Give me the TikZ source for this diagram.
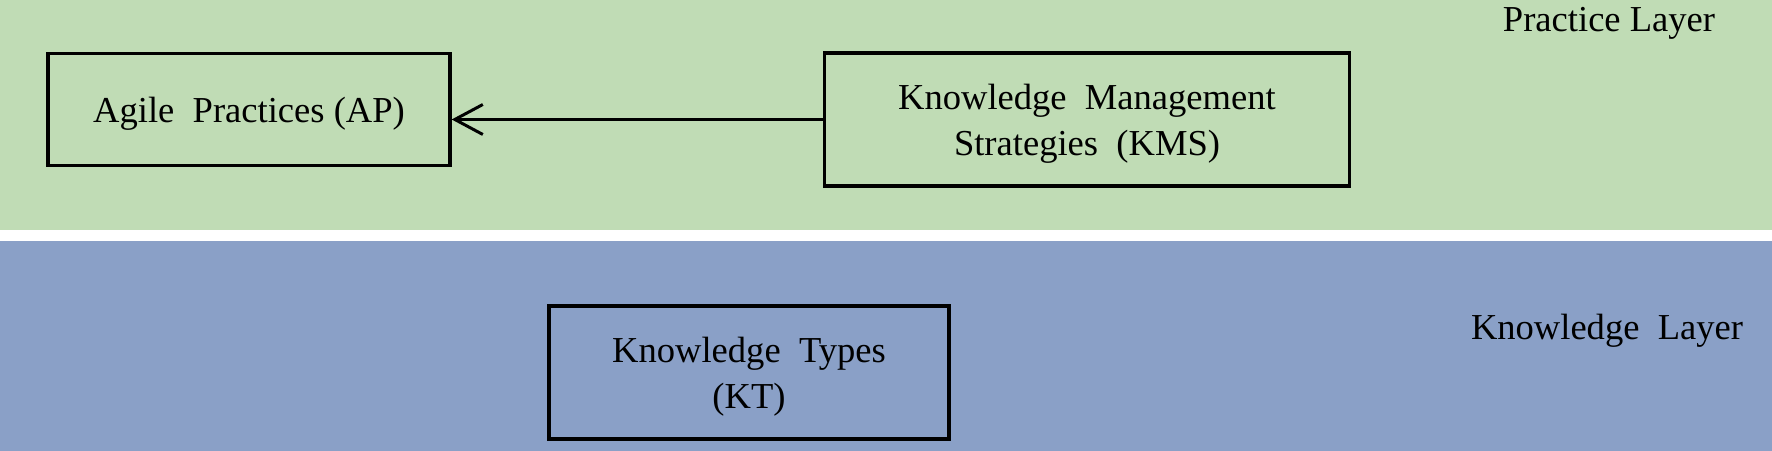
\documentclass[tikz,border=0pt]{standalone}
\usepackage{fontspec}
\setmainfont{Liberation Serif}
\usepackage{xcolor}
\usetikzlibrary{arrows.meta,positioning}
\definecolor{practicegreen}{RGB}{192,220,181}
\definecolor{knowblue}{RGB}{138,160,199}

\begin{document}
\begin{tikzpicture}[>={Straight Barb[length=0.28cm,width=0.3cm]},
    font=\fontsize{10.4pt}{13.1pt}\selectfont,
    mybox/.style={draw=black,line width=0.95pt,align=center,inner sep=0pt,text depth=-4pt},
    layertext/.style={anchor=base,inner sep=0pt}]
        \useasboundingbox (0,0) rectangle (17.72,4.51);
        \fill[practicegreen] (0,2.21) rectangle (17.72,4.51);
        \fill[knowblue] (0,0) rectangle (17.72,2.10);
        \node[layertext] (pl) at (16.09,4.19) {Practice Layer};
        \node[layertext] (kl) at (16.07,1.11) {Knowledge\ \ Layer};
        \node[mybox,minimum width=4.02cm,minimum height=1.12cm] (ap) at (2.49,3.415) {Agile\ \ Practices (AP)};
        \node[mybox,minimum width=5.25cm,minimum height=1.33cm] (kms) at (10.87,3.315) {Knowledge\ \ Management\\Strategies\ \ (KMS)};
        \node[mybox,minimum width=4.0cm,minimum height=1.33cm] (kt) at (7.49,0.785) {Knowledge\ \ Types\\(KT)};
        \draw[->,line width=0.85pt] (kms.west) -- (kms.west -| ap.east);
\end{tikzpicture}
\end{document}
